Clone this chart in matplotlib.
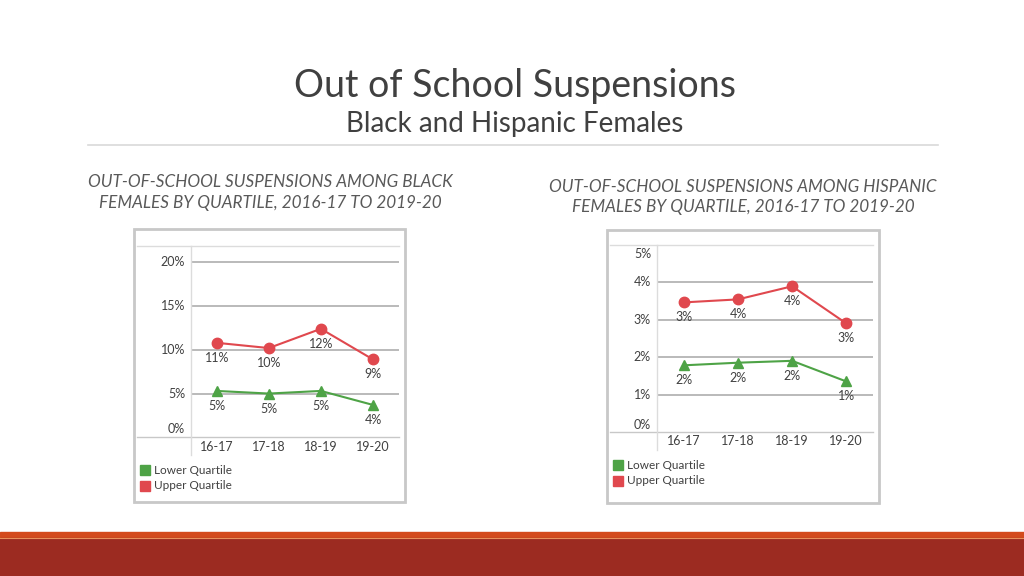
import matplotlib
matplotlib.use("Agg")
from matplotlib import pyplot as plt
from matplotlib.patches import Rectangle
from matplotlib.lines import Line2D
from matplotlib import transforms

plt.rcParams['font.family'] = ['Lato', 'DejaVu Sans']

# data
years = ["16-17", "17-18", "18-19", "19-20"]
black_upper = [10.8, 10.2, 12.4, 8.9]
black_lower = [5.3, 5.0, 5.3, 3.7]
black_upper_lbl = ["11%", "10%", "12%", "9%"]
black_lower_lbl = ["5%", "5%", "5%", "4%"]
hisp_upper = [3.46, 3.54, 3.89, 2.90]
hisp_lower = [1.78, 1.85, 1.90, 1.35]
hisp_upper_lbl = ["3%", "4%", "4%", "3%"]
hisp_lower_lbl = ["2%", "2%", "2%", "1%"]

RED = "#e0484e"
GREEN = "#4ea346"
GRID = "#b4b4b4"
TXT = "#404040"

W, H = 1024, 576
fig = plt.figure(figsize=(W / 100, H / 100), dpi=100)


def fx(x):
    return x / W


def fy(y):
    return 1 - y / H


def hline(x0, x1, y, color, lw):
    fig.add_artist(Line2D([fx(x0), fx(x1)], [fy(y), fy(y)], color=color, lw=lw,
                          transform=fig.transFigure))


# slide title
fig.text(fx(515), fy(86), "Out of School Suspensions", ha="center", va="center",
         fontsize=27, color=TXT)
fig.text(fx(515), fy(124), "Black and Hispanic Females", ha="center", va="center",
         fontsize=20, color=TXT)
hline(88, 938, 145, "#d9d9d9", 1.2)

# bottom band
fig.add_artist(Rectangle((0, 0), 1, fy(532), color="#d34a1c", transform=fig.transFigure))
fig.add_artist(Rectangle((0, 0), 1, fy(538), color="#9c2b21", transform=fig.transFigure))
hline(0, W, 537.5, "#e8905a", 0.8)


def panel(box, plot, top_val, grid_vals, tick_lbls, label_x, xlab_y, up, lo,
          up_lbl, lo_lbl, leg_x, leg_y, heading, head_xy, lbl_shift):
    bx0, by0, bx1, by1 = box
    fig.add_artist(Rectangle((fx(bx0), fy(by1)), fx(bx1) - fx(bx0), fy(by0) - fy(by1),
                             fill=False, ec="#c8c8c8", lw=2, transform=fig.transFigure))
    px0, ptop, px1, pzero, pbottom = plot
    ax = fig.add_axes([fx(px0), fy(pzero), fx(px1) - fx(px0), fy(ptop) - fy(pzero)])
    ax.set_xlim(-0.5, 3.5)
    ax.set_ylim(0, top_val)
    for s in ax.spines.values():
        s.set_visible(False)
    ax.set_xticks([])
    ax.set_yticks([])
    for g in grid_vals:
        ax.axhline(g, color=GRID, lw=1.3, zorder=1)
    # table-like frame lines
    hline(bx0 + 3, px1, ptop, "#dcdcdc", 1.0)
    hline(bx0 + 3, px1, pzero, "#c8c8c8", 1.0)
    fig.add_artist(Line2D([fx(px0), fx(px0)], [fy(ptop), fy(pbottom)], color="#dcdcdc",
                          lw=1.0, transform=fig.transFigure))

    x = range(len(years))
    ax.plot(x, up, color=RED, lw=1.5, marker="o", ms=7.5, zorder=3, clip_on=False)
    ax.plot(x, lo, color=GREEN, lw=1.5, marker="^", ms=7.5, zorder=3, clip_on=False)
    below = transforms.offset_copy(ax.transData, fig=fig, x=0, y=-15, units="dots")
    for i in x:
        ax.text(i, up[i], up_lbl[i], transform=below, ha="center", va="center",
                fontsize=9, color=TXT)
        ax.text(i, lo[i], lo_lbl[i], transform=below, ha="center", va="center",
                fontsize=9, color=TXT)
    # y tick labels
    for v, t in zip(tick_lbls[0], tick_lbls[1]):
        sh = lbl_shift.get(t, 0)
        tr = transforms.offset_copy(ax.transData, fig=fig, x=0, y=sh, units="dots")
        ax.text(-0.5, v, t, transform=tr, ha="right", va="center", fontsize=9,
                color=TXT)
        ax.texts[-1].set_x(-0.5 - (px0 - label_x) / ((px1 - px0) / 4))
    for i, yr in enumerate(years):
        fig.text(fx(px0 + (i + 0.5) * (px1 - px0) / 4), fy(xlab_y), yr, ha="center",
                 va="center", fontsize=9, color=TXT)
    # legend
    for k, (c, name) in enumerate([(GREEN, "Lower Quartile"), (RED, "Upper Quartile")]):
        yy = leg_y + 15.5 * k
        fig.add_artist(Rectangle((fx(leg_x), fy(yy + 5)), 10 / W, 10 / H, color=c,
                                 transform=fig.transFigure))
        fig.text(fx(leg_x + 14), fy(yy), name, ha="left", va="center", fontsize=8.5,
                 color=TXT)
    fig.text(fx(head_xy[0]), fy(head_xy[1]), heading, ha="center", va="center",
             fontsize=12.3, style="italic", color="#595959", linespacing=1.35)


panel((134, 229, 405, 502), (190.7, 245.7, 399, 437.3, 455), 21.9,
      [5, 10, 15, 20], ([0, 5, 10, 15, 20], ["0%", "5%", "10%", "15%", "20%"]),
      185, 446.7, black_upper, black_lower, black_upper_lbl, black_lower_lbl,
      140, 470, "OUT-OF-SCHOOL SUSPENSIONS AMONG BLACK\nFEMALES BY QUARTILE, 2016-17 TO 2019-20",
      (270, 192.5), {"0%": 8})

panel((607, 230, 879, 503), (656.7, 244.7, 873.3, 432, 449.7), 5.0,
      [1, 2, 3, 4], ([0, 1, 2, 3, 4, 5], ["0%", "1%", "2%", "3%", "4%", "5%"]),
      651, 441.3, hisp_upper, hisp_lower, hisp_upper_lbl, hisp_lower_lbl,
      613, 465.3, "OUT-OF-SCHOOL SUSPENSIONS AMONG HISPANIC\nFEMALES BY QUARTILE, 2016-17 TO 2019-20",
      (743, 197), {"0%": 7, "5%": -9})

fig.savefig("out.png", dpi=100)
